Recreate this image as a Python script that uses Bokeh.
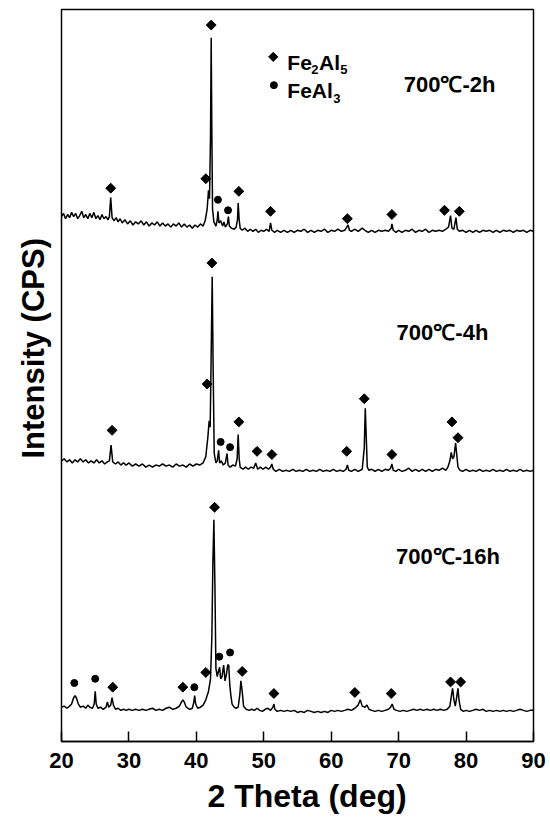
import math
from bokeh.plotting import figure
from bokeh.models import Range1d, FixedTicker, Label, Title
from bokeh.embed import file_html
from bokeh.resources import INLINE

# ---- data: 2-theta (deg) and intensity (CPS, a.u.) ----
tt_2h = [20.0,20.3,20.6,20.9,21.2,21.5,21.8,22.1,22.4,22.7,23.0,23.3,23.6,23.9,24.2,24.5,24.8,25.1,25.4,25.7,26.0,26.3,26.6,26.9,27.1,27.3,27.5,27.8,28.1,28.4,28.7,29.0,29.4,29.8,30.2,30.6,31.0,31.4,31.8,32.2,32.6,33.0,33.4,33.8,34.2,34.6,35.0,35.4,35.8,36.2,36.6,37.0,37.4,37.8,38.2,38.6,39.0,39.4,39.8,40.2,40.6,41.0,41.3,41.6,41.8,41.95,42.1,42.2,42.3,42.4,42.6,42.9,43.1,43.2,43.35,43.6,43.9,44.1,44.3,44.6,44.75,44.9,45.2,45.6,45.9,46.1,46.2,46.35,46.5,46.8,47.2,47.6,48.0,48.4,48.8,49.2,49.6,50.0,50.4,50.8,51.0,51.2,51.6,52.0,52.5,53.0,53.5,54.0,54.5,55.0,55.5,56.0,56.5,57.0,57.5,58.0,58.5,59.0,59.5,60.0,60.5,61.0,61.5,62.0,62.3,62.5,62.7,63.0,63.5,64.0,64.6,65.0,65.5,66.0,66.5,67.0,67.5,68.0,68.5,68.9,69.0,69.2,69.6,70.0,70.5,71.0,71.5,72.0,72.5,73.0,73.5,74.0,74.5,75.0,75.5,76.0,76.5,77.0,77.4,77.7,77.9,78.2,78.5,78.7,79.0,79.5,80.0,80.5,81.0,81.5,82.0,82.5,83.0,83.5,84.0,84.5,85.0,85.5,86.0,86.5,87.0,87.5,88.0,88.5,89.0,89.5,90.0]
int_2h = [523,526,521,525,522,527,523,526,521,524,528,522,525,521,526,522,527,521,524,520,525,521,523,520,523,541,522,519,522,518,521,517,520,516,519,515,518,516,519,515,518,514,517,515,518,514,517,514,516,513,516,514,517,513,516,513,515,512,515,513,516,514,519,530,548,540,600,693,600,530,518,514,520,528,517,519,514,518,513,516,523,514,512,511,513,520,536,520,512,510,512,509,511,509,511,508,510,509,511,509,517,510,508,510,508,510,508,510,508,510,509,511,508,510,508,510,509,511,508,510,509,511,509,510,513,515,510,509,511,509,512,510,508,510,508,510,509,510,509,512,516,510,508,510,508,510,509,511,508,510,509,511,508,510,509,510,509,511,513,524,512,511,522,511,509,510,508,510,508,510,508,510,509,510,508,510,508,510,509,510,508,510,509,510,508,510,509]

tt_4h = [20.0,20.4,20.8,21.2,21.6,22.0,22.4,22.8,23.2,23.6,24.0,24.4,24.8,25.2,25.6,26.0,26.4,26.8,27.1,27.35,27.6,28.0,28.4,28.8,29.2,29.6,30.0,30.5,31.0,31.5,32.0,32.5,33.0,33.5,34.0,34.5,35.0,35.5,36.0,36.5,37.0,37.5,38.0,38.5,39.0,39.5,40.0,40.5,41.0,41.4,41.7,41.9,42.05,42.2,42.35,42.5,42.65,42.9,43.1,43.3,43.45,43.7,44.0,44.3,44.55,44.7,45.0,45.4,45.8,46.05,46.2,46.35,46.5,46.9,47.3,47.7,48.1,48.5,48.8,49.1,49.5,49.9,50.3,50.7,51.0,51.2,51.4,51.8,52.3,52.8,53.3,53.8,54.3,54.8,55.3,55.8,56.3,56.8,57.3,57.8,58.3,58.8,59.3,59.8,60.3,60.8,61.3,61.8,62.2,62.4,62.6,63.0,63.5,64.0,64.6,64.9,65.05,65.2,65.35,65.6,66.0,66.5,67.0,67.5,68.0,68.5,68.8,69.0,69.2,69.6,70.0,70.5,71.0,71.5,72.0,72.5,73.0,73.5,74.0,74.5,75.0,75.5,76.0,76.5,77.0,77.3,77.6,77.8,78.0,78.2,78.45,78.6,78.8,79.1,79.5,80.0,80.5,81.0,81.5,82.0,82.5,83.0,83.5,84.0,84.5,85.0,85.5,86.0,86.5,87.0,87.5,88.0,88.5,89.0,89.5,90.0]
int_4h = [278,280,277,279,276,279,277,280,277,279,276,278,276,279,276,278,275,277,278,293,277,275,277,274,276,274,276,273,275,273,275,272,274,272,274,273,275,273,274,272,275,273,274,272,275,273,275,274,276,282,300,316,310,380,453,360,285,276,278,288,276,278,274,276,285,274,272,274,273,280,303,280,272,270,272,270,272,271,276,270,272,270,272,270,272,275,270,268,270,268,269,268,270,268,269,268,270,268,269,268,270,268,269,268,270,268,269,268,270,274,269,268,270,268,270,290,328,300,272,269,270,268,270,268,270,269,271,275,269,268,270,268,269,271,268,270,268,270,268,270,268,270,269,271,269,272,278,286,280,282,295,285,272,269,268,270,268,269,268,270,268,269,268,270,268,269,268,270,268,269,268,270,268,269,268,269]

tt_16h = [20.0,20.4,20.8,21.2,21.5,21.8,22.0,22.2,22.5,22.8,23.2,23.6,23.9,24.2,24.6,24.85,25.0,25.15,25.4,25.8,26.2,26.6,26.8,27.0,27.3,27.5,27.7,28.0,28.4,28.8,29.2,29.6,30.0,30.5,31.0,31.5,32.0,32.5,33.0,33.5,34.0,34.5,35.0,35.5,36.0,36.5,37.0,37.5,37.8,38.0,38.2,38.5,39.0,39.4,39.6,39.75,39.9,40.2,40.6,41.0,41.4,41.8,42.1,42.3,42.45,42.6,42.75,42.9,43.1,43.3,43.45,43.6,43.8,44.05,44.25,44.45,44.65,44.8,44.95,45.1,45.3,45.6,45.9,46.2,46.45,46.6,46.8,47.0,47.4,47.8,48.2,48.6,49.0,49.4,49.8,50.2,50.6,51.0,51.35,51.5,51.65,52.0,52.5,53.0,53.5,54.0,54.5,55.0,55.5,56.0,56.5,57.0,57.5,58.0,58.5,59.0,59.5,60.0,60.5,61.0,61.5,62.0,62.5,63.0,63.5,64.0,64.3,64.6,65.0,65.3,65.6,66.0,66.5,67.0,67.5,68.0,68.5,68.8,69.05,69.3,69.7,70.2,70.7,71.2,71.7,72.2,72.7,73.2,73.7,74.2,74.7,75.2,75.7,76.2,76.7,77.2,77.6,77.85,78.0,78.2,78.4,78.6,78.8,78.95,79.2,79.6,80.0,80.5,81.0,81.5,82.0,82.5,83.0,83.5,84.0,84.5,85.0,85.5,86.0,86.5,87.0,87.5,88.0,88.5,89.0,89.5,90.0]
int_16h = [33,34,32,34,36,42,44,42,36,33,34,32,35,33,32,36,48,36,32,33,31,33,38,33,35,42,35,31,32,30,31,30,31,30,31,30,31,30,31,32,30,31,30,32,33,31,32,34,38,40,38,33,31,32,37,44,36,32,33,35,40,48,60,100,170,211,150,70,62,68,71,60,62,73,58,64,73,73,55,45,36,33,32,33,45,58,48,34,31,30,31,30,32,30,29,31,32,30,33,36,31,29,30,29,30,29,30,28,29,28,30,29,28,29,28,29,28,30,29,30,29,30,31,30,32,35,40,34,33,35,31,30,29,30,29,30,31,33,36,31,30,29,30,29,30,31,30,31,30,31,30,31,30,31,30,31,34,45,51,40,34,42,51,40,31,29,30,29,30,31,30,31,29,30,29,30,29,30,29,30,29,30,31,30,29,30,30]

# ---- phase markers per pattern (2-theta, intensity) ----
fe2al5_2h_tt = [27.3, 41.4, 42.2, 46.3, 51.0, 62.4, 69.0, 76.8, 79.0]
fe2al5_2h_int = [550, 559, 705, 547, 528, 521, 525, 529, 528]
feal3_2h_tt = [43.2, 44.7]
feal3_2h_int = [539, 529]

fe2al5_4h_tt = [27.5, 41.6, 42.3, 46.3, 49.0, 51.2, 62.3, 64.9, 69.0, 77.9, 78.8]
fe2al5_4h_int = [307, 351, 466, 315, 287, 284, 287, 337, 284, 315, 300]
feal3_4h_tt = [43.6, 45.0]
feal3_4h_int = [296, 291]

fe2al5_16h_tt = [27.6, 38.0, 41.4, 42.7, 46.8, 51.5, 63.5, 68.9, 77.7, 79.2]
fe2al5_16h_int = [52, 52, 66, 223, 67, 46, 47, 46, 57, 57]
feal3_16h_tt = [21.9, 25.0, 39.7, 43.4, 45.0]
feal3_16h_int = [56, 60, 52, 81, 85]

x_ticks = [20, 30, 40, 50, 60, 70, 80, 90]
sample_labels = ["700℃-2h", "700℃-4h", "700℃-16h"]
x_title = "2 Theta (deg)"
y_title = "Intensity (CPS)"

# vertical display shift of each stacked pattern
stack_shift = {"2h": -23.8, "4h": -10.9, "16h": 0.0}

FONT = "Liberation Sans"

p = figure(width=550, height=821, output_backend="svg", toolbar_location=None,
           x_range=Range1d(20, 90), y_range=Range1d(0.4, 696),
           min_border_left=61, min_border_right=17, min_border_top=9, min_border_bottom=80)
p.background_fill_color = "white"
p.border_fill_color = "white"
p.outline_line_color = "black"
p.outline_line_width = 1.5
p.grid.visible = False

patterns = [
    ("2h", tt_2h, int_2h, fe2al5_2h_tt, fe2al5_2h_int, feal3_2h_tt, feal3_2h_int),
    ("4h", tt_4h, int_4h, fe2al5_4h_tt, fe2al5_4h_int, feal3_4h_tt, feal3_4h_int),
    ("16h", tt_16h, int_16h, fe2al5_16h_tt, fe2al5_16h_int, feal3_16h_tt, feal3_16h_int),
]
for key, tt, it, dtt, dint, ctt, cint in patterns:
    s = stack_shift[key]
    p.line(tt, [v + s for v in it], line_color="black", line_width=1.5)
    p.scatter(dtt, [v + s for v in dint], marker="square", angle=math.pi / 4,
              size=7, color="black")
    p.scatter(ctt, [v + s for v in cint], marker="circle", size=7, color="black")

# in-plot legend
p.scatter([51.4], [651.0], marker="square", angle=math.pi / 4, size=6.5, color="black")
p.scatter([51.5], [624.1], marker="circle", size=7, color="black")

def txt(x, y, t, size):
    p.add_layout(Label(x=x, y=y, text=t, text_font=FONT, text_font_style="bold",
                       text_font_size=size, text_align="left", text_baseline="alphabetic",
                       text_color="black"))

txt(53.49, 645.5, "Fe", "21px")
txt(57.05, 639.1, "2", "13px")
txt(58.2, 645.5, "Al", "21px")
txt(61.35, 639.1, "5", "13px")
txt(53.49, 618.6, "FeAl", "21px")
txt(60.3, 611.9, "3", "13px")

for lab, x, y in zip(sample_labels, [70.75, 69.7, 69.6], [625.0, 389.0, 176.0]):
    txt(x, y, lab, "22px")

# axis titles
p.add_layout(Title(text=x_title, align="left", offset=146, standoff=10,
                   text_font=FONT, text_font_style="bold", text_font_size="32px",
                   text_color="black"), "below")
p.add_layout(Title(text=y_title, align="left", offset=283, standoff=22,
                   text_font=FONT, text_font_style="bold", text_font_size="31px",
                   text_color="black"), "left")

xa = p.xaxis[0]
xa.ticker = FixedTicker(ticks=x_ticks)
xa.major_label_text_font = FONT
xa.major_label_text_font_style = "bold"
xa.major_label_text_font_size = "22px"
xa.major_label_text_color = "black"
xa.major_label_standoff = 11
xa.major_tick_in = 10
xa.major_tick_out = 0
xa.major_tick_line_width = 1.5
xa.major_tick_line_color = "black"
xa.minor_tick_line_color = None
xa.axis_line_width = 1.5
xa.axis_line_color = "black"

p.yaxis.visible = False

open("out.html", "w").write(file_html(p, INLINE))
